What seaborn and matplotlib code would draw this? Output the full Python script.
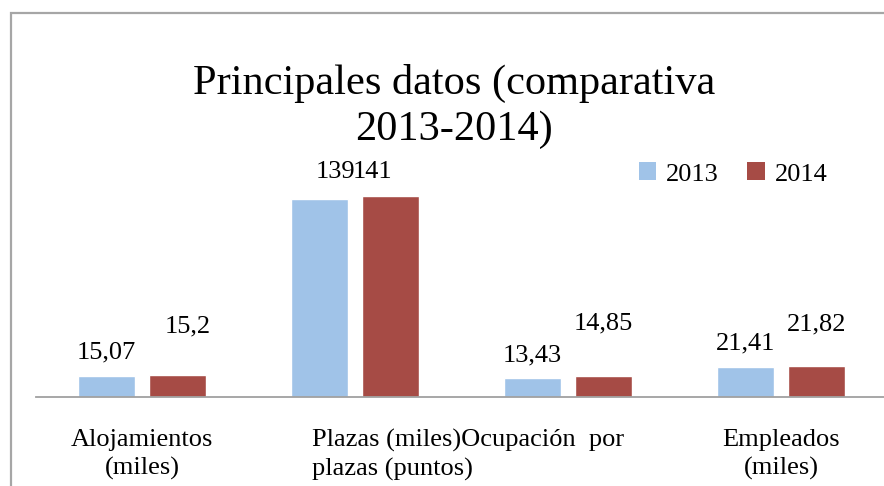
import numpy as np
import pandas as pd
import matplotlib.pyplot as plt
import seaborn as sns
from matplotlib.patches import Rectangle, Patch

# ===================== estilo =====================
sns.set_style('white')
plt.rcParams['font.family'] = ['Liberation Serif', 'DejaVu Serif']
plt.rcParams['text.color'] = 'black'
plt.rcParams['xtick.color'] = 'black'

# ===================== datos =====================
categorias = ['Alojamientos\n(miles)', 'Plazas (miles)', 'Ocupación por plazas (puntos)', 'Empleados\n(miles)']
anios = ['2013', '2014']
valores_2013 = [15.07, 139, 13.43, 21.41]
valores_2014 = [15.2, 141, 14.85, 21.82]

colores = {'2013': '#A0C3E8', '2014': '#A64B45'}

# desplazamiento de las etiquetas (px) respecto a la parte alta de cada barra
nudge_2013 = [(0, 17), (16, 21), (0, 16), (0, 17)]
nudge_2014 = [(10, 43), (-18, 18), (0, 46), (0, 35)]

df = pd.DataFrame({
    'categoria': categorias * 2,
    'anio': [anios[0]] * 4 + [anios[1]] * 4,
    'valor': valores_2013 + valores_2014,
})

def fmt_es(v):
    return f'{v:g}'.replace('.', ',')

# ===================== figura =====================
fig = plt.figure(figsize=(8.84, 4.86), dpi=100)
fig.add_artist(Rectangle((10.5 / 884, -0.5), 2, 0.5 + (1 - 13.5 / 486),
                         transform=fig.transFigure, fill=False,
                         edgecolor='#A6A6A6', lw=1.6))

ax = fig.add_axes([0.0402, 0.1831, 0.9638, 0.5082])
sns.barplot(data=df, x='categoria', y='valor', hue='anio', palette=colores,
            width=0.667, gap=0.197, legend=False, ax=ax, saturation=1)

ax.set_ylim(0, 173.5)
ax.set_xlim(-0.5, 3.5)
ax.set_yticks([])
ax.set_xlabel('')
ax.set_ylabel('')
for s in ['left', 'top', 'right']:
    ax.spines[s].set_visible(False)
ax.spines['bottom'].set_color('#A0A0A0')
ax.spines['bottom'].set_linewidth(1.3)

# etiquetas de categorias
ax.set_xticks([0, 1, 2, 3])
ax.set_xticklabels([categorias[0], '', '', categorias[3]], fontsize=19, linespacing=1.34)
ax.tick_params(axis='x', length=0, pad=23)
ax.annotate('Plazas (miles)Ocupación  por\nplazas (puntos)',
            xy=(1 - 43 / 213, 0), xycoords=('data', 'axes fraction'),
            xytext=(0, -23), textcoords='offset points',
            ha='left', va='top', fontsize=19, linespacing=1.34)

# etiquetas de datos
for cont, vals, nudges in zip(ax.containers, [valores_2013, valores_2014], [nudge_2013, nudge_2014]):
    for bar, v, (dx, dy) in zip(cont, vals, nudges):
        ax.annotate(fmt_es(v), xy=(bar.get_x() + bar.get_width() / 2, bar.get_height()),
                    xytext=(dx, dy), textcoords='offset pixels',
                    ha='center', va='baseline', fontsize=19)

# titulo
fig.text(454 / 884, 1 - 64 / 486, 'Principales datos (comparativa\n2013-2014)',
         ha='center', va='top', fontsize=30.5, linespacing=1.25)

# leyenda
handles = [Patch(facecolor=colores[a], edgecolor='none') for a in anios]
fig.legend(handles, anios, loc='center left', bbox_to_anchor=(639 / 884, 1 - 174 / 486),
           ncol=2, frameon=False, fontsize=19, handlelength=0.65, handleheight=0.65,
           handletextpad=0.38, columnspacing=1.08, borderpad=0, borderaxespad=0)

fig.savefig('out.png', dpi=100)
